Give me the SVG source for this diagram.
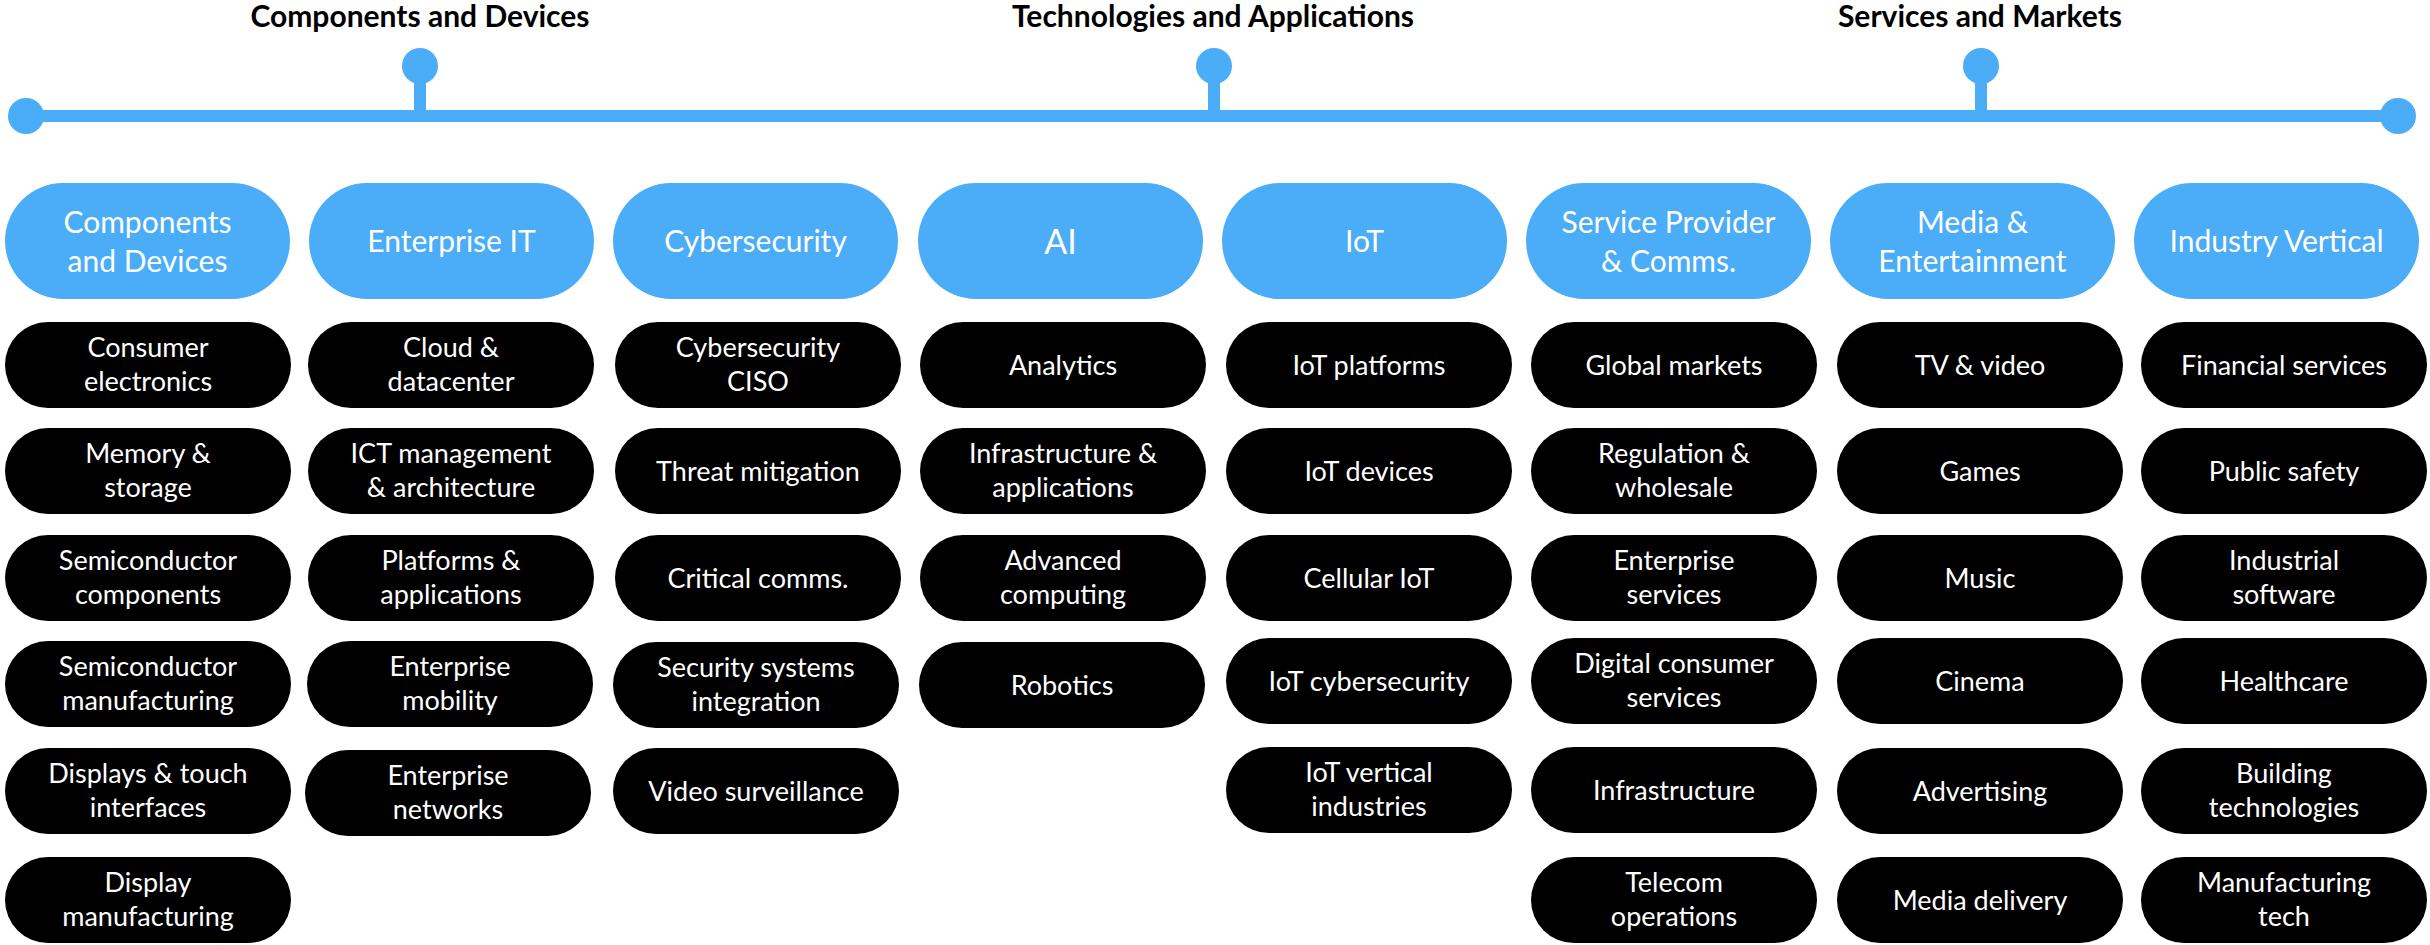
<svg xmlns="http://www.w3.org/2000/svg" width="2430" height="945" viewBox="0 0 2430 945">
<style>
.hdr{fill:#4BADF7}
.item{fill:#000000}
.t{font-family:Lato,"Liberation Sans",sans-serif;fill:#ffffff;text-anchor:middle}
.ht{font-size:30px}
.it{font-size:27px}
.top{font-family:Lato,"Liberation Sans",sans-serif;font-weight:bold;font-size:30px;fill:#000000;text-anchor:middle}
.tl{fill:#4BADF7}
</style>
<rect width="2430" height="945" fill="#ffffff"/>
<g id="connectors">
<rect class="tl" x="26" y="110" width="2372" height="12"/>
<circle class="tl" cx="26" cy="116" r="18"/>
<circle class="tl" cx="2398" cy="116" r="18"/>
<rect class="tl" x="414" y="66" width="12" height="50"/>
<circle class="tl" cx="420" cy="66" r="18"/>
<rect class="tl" x="1208" y="66" width="12" height="50"/>
<circle class="tl" cx="1214" cy="66" r="18"/>
<rect class="tl" x="1975" y="66" width="12" height="50"/>
<circle class="tl" cx="1981" cy="66" r="18"/>
</g>
<g id="labels">
<text class="top" x="420" y="27">Components and Devices</text>
<text class="top" x="1213" y="27">Technologies and Applications</text>
<text class="top" x="1980" y="27">Services and Markets</text>
</g>
<g id="h1"><rect class="hdr" x="5" y="183" width="285" height="116" rx="58"/><text class="t ht" x="147.5"><tspan x="147.5" y="233">Components</tspan><tspan x="147.5" y="272">and Devices</tspan></text></g>
<g id="h2"><rect class="hdr" x="309" y="183" width="285" height="116" rx="58"/><text class="t ht" x="451.5" y="252">Enterprise IT</text></g>
<g id="h3"><rect class="hdr" x="613" y="183" width="285" height="116" rx="58"/><text class="t ht" x="755.5" y="252">Cybersecurity</text></g>
<g id="h4"><rect class="hdr" x="918" y="183" width="285" height="116" rx="58"/><text class="t" style="font-size:34px" x="1060.5" y="254">AI</text></g>
<g id="h5"><rect class="hdr" x="1222" y="183" width="285" height="116" rx="58"/><text class="t ht" x="1364.5" y="252">IoT</text></g>
<g id="h6"><rect class="hdr" x="1526" y="183" width="285" height="116" rx="58"/><text class="t ht" x="1668.5"><tspan x="1668.5" y="233">Service Provider</tspan><tspan x="1668.5" y="272">&amp; Comms.</tspan></text></g>
<g id="h7"><rect class="hdr" x="1830" y="183" width="285" height="116" rx="58"/><text class="t ht" x="1972.5"><tspan x="1972.5" y="233">Media &amp;</tspan><tspan x="1972.5" y="272">Entertainment</tspan></text></g>
<g id="h8"><rect class="hdr" x="2134" y="183" width="285" height="116" rx="58"/><text class="t ht" x="2276.5" y="252">Industry Vertical</text></g>

<g id="c1r1"><rect class="item" x="5" y="322" width="286" height="86" rx="43"/><text class="t it"><tspan x="148" y="357">Consumer</tspan><tspan x="148" y="391">electronics</tspan></text></g>
<g id="c1r2"><rect class="item" x="5" y="428" width="286" height="86" rx="43"/><text class="t it"><tspan x="148" y="463">Memory &amp;</tspan><tspan x="148" y="497">storage</tspan></text></g>
<g id="c1r3"><rect class="item" x="5" y="535" width="286" height="86" rx="43"/><text class="t it"><tspan x="148" y="570">Semiconductor</tspan><tspan x="148" y="604">components</tspan></text></g>
<g id="c1r4"><rect class="item" x="5" y="641" width="286" height="86" rx="43"/><text class="t it"><tspan x="148" y="676">Semiconductor</tspan><tspan x="148" y="710">manufacturing</tspan></text></g>
<g id="c1r5"><rect class="item" x="5" y="748" width="286" height="86" rx="43"/><text class="t it"><tspan x="148" y="783">Displays &amp; touch</tspan><tspan x="148" y="817">interfaces</tspan></text></g>
<g id="c1r6"><rect class="item" x="5" y="857" width="286" height="86" rx="43"/><text class="t it"><tspan x="148" y="892">Display</tspan><tspan x="148" y="926">manufacturing</tspan></text></g>

<g id="c2r1"><rect class="item" x="308" y="322" width="286" height="86" rx="43"/><text class="t it"><tspan x="451" y="357">Cloud &amp;</tspan><tspan x="451" y="391">datacenter</tspan></text></g>
<g id="c2r2"><rect class="item" x="308" y="428" width="286" height="86" rx="43"/><text class="t it"><tspan x="451" y="463">ICT management</tspan><tspan x="451" y="497">&amp; architecture</tspan></text></g>
<g id="c2r3"><rect class="item" x="308" y="535" width="286" height="86" rx="43"/><text class="t it"><tspan x="451" y="570">Platforms &amp;</tspan><tspan x="451" y="604">applications</tspan></text></g>
<g id="c2r4"><rect class="item" x="307" y="641" width="286" height="86" rx="43"/><text class="t it"><tspan x="450" y="676">Enterprise</tspan><tspan x="450" y="710">mobility</tspan></text></g>
<g id="c2r5"><rect class="item" x="305" y="750" width="286" height="86" rx="43"/><text class="t it"><tspan x="448" y="785">Enterprise</tspan><tspan x="448" y="819">networks</tspan></text></g>

<g id="c3r1"><rect class="item" x="615" y="322" width="286" height="86" rx="43"/><text class="t it"><tspan x="758" y="357">Cybersecurity</tspan><tspan x="758" y="391">CISO</tspan></text></g>
<g id="c3r2"><rect class="item" x="615" y="428" width="286" height="86" rx="43"/><text class="t it" x="758" y="481">Threat mitigation</text></g>
<g id="c3r3"><rect class="item" x="615" y="535" width="286" height="86" rx="43"/><text class="t it" x="758" y="588">Critical comms.</text></g>
<g id="c3r4"><rect class="item" x="613" y="642" width="286" height="86" rx="43"/><text class="t it"><tspan x="756" y="677">Security systems</tspan><tspan x="756" y="711">integration</tspan></text></g>
<g id="c3r5"><rect class="item" x="613" y="748" width="286" height="86" rx="43"/><text class="t it" x="756" y="801">Video surveillance</text></g>

<g id="c4r1"><rect class="item" x="920" y="322" width="286" height="86" rx="43"/><text class="t it" x="1063" y="375">Analytics</text></g>
<g id="c4r2"><rect class="item" x="920" y="428" width="286" height="86" rx="43"/><text class="t it"><tspan x="1063" y="463">Infrastructure &amp;</tspan><tspan x="1063" y="497">applications</tspan></text></g>
<g id="c4r3"><rect class="item" x="920" y="535" width="286" height="86" rx="43"/><text class="t it"><tspan x="1063" y="570">Advanced</tspan><tspan x="1063" y="604">computing</tspan></text></g>
<g id="c4r4"><rect class="item" x="919" y="642" width="286" height="86" rx="43"/><text class="t it" x="1062" y="695">Robotics</text></g>

<g id="c5r1"><rect class="item" x="1226" y="322" width="286" height="86" rx="43"/><text class="t it" x="1369" y="375">IoT platforms</text></g>
<g id="c5r2"><rect class="item" x="1226" y="428" width="286" height="86" rx="43"/><text class="t it" x="1369" y="481">IoT devices</text></g>
<g id="c5r3"><rect class="item" x="1226" y="535" width="286" height="86" rx="43"/><text class="t it" x="1369" y="588">Cellular IoT</text></g>
<g id="c5r4"><rect class="item" x="1226" y="638" width="286" height="86" rx="43"/><text class="t it" x="1369" y="691">IoT cybersecurity</text></g>
<g id="c5r5"><rect class="item" x="1226" y="747" width="286" height="86" rx="43"/><text class="t it"><tspan x="1369" y="782">IoT vertical</tspan><tspan x="1369" y="816">industries</tspan></text></g>

<g id="c6r1"><rect class="item" x="1531" y="322" width="286" height="86" rx="43"/><text class="t it" x="1674" y="375">Global markets</text></g>
<g id="c6r2"><rect class="item" x="1531" y="428" width="286" height="86" rx="43"/><text class="t it"><tspan x="1674" y="463">Regulation &amp;</tspan><tspan x="1674" y="497">wholesale</tspan></text></g>
<g id="c6r3"><rect class="item" x="1531" y="535" width="286" height="86" rx="43"/><text class="t it"><tspan x="1674" y="570">Enterprise</tspan><tspan x="1674" y="604">services</tspan></text></g>
<g id="c6r4"><rect class="item" x="1531" y="638" width="286" height="86" rx="43"/><text class="t it"><tspan x="1674" y="673">Digital consumer</tspan><tspan x="1674" y="707">services</tspan></text></g>
<g id="c6r5"><rect class="item" x="1531" y="747" width="286" height="86" rx="43"/><text class="t it" x="1674" y="800">Infrastructure</text></g>
<g id="c6r6"><rect class="item" x="1531" y="857" width="286" height="86" rx="43"/><text class="t it"><tspan x="1674" y="892">Telecom</tspan><tspan x="1674" y="926">operations</tspan></text></g>

<g id="c7r1"><rect class="item" x="1837" y="322" width="286" height="86" rx="43"/><text class="t it" x="1980" y="375">TV &amp; video</text></g>
<g id="c7r2"><rect class="item" x="1837" y="428" width="286" height="86" rx="43"/><text class="t it" x="1980" y="481">Games</text></g>
<g id="c7r3"><rect class="item" x="1837" y="535" width="286" height="86" rx="43"/><text class="t it" x="1980" y="588">Music</text></g>
<g id="c7r4"><rect class="item" x="1837" y="638" width="286" height="86" rx="43"/><text class="t it" x="1980" y="691">Cinema</text></g>
<g id="c7r5"><rect class="item" x="1837" y="748" width="286" height="86" rx="43"/><text class="t it" x="1980" y="801">Advertising</text></g>
<g id="c7r6"><rect class="item" x="1837" y="857" width="286" height="86" rx="43"/><text class="t it" x="1980" y="910">Media delivery</text></g>

<g id="c8r1"><rect class="item" x="2141" y="322" width="286" height="86" rx="43"/><text class="t it" x="2284" y="375">Financial services</text></g>
<g id="c8r2"><rect class="item" x="2141" y="428" width="286" height="86" rx="43"/><text class="t it" x="2284" y="481">Public safety</text></g>
<g id="c8r3"><rect class="item" x="2141" y="535" width="286" height="86" rx="43"/><text class="t it"><tspan x="2284" y="570">Industrial</tspan><tspan x="2284" y="604">software</tspan></text></g>
<g id="c8r4"><rect class="item" x="2141" y="638" width="286" height="86" rx="43"/><text class="t it" x="2284" y="691">Healthcare</text></g>
<g id="c8r5"><rect class="item" x="2141" y="748" width="286" height="86" rx="43"/><text class="t it"><tspan x="2284" y="783">Building</tspan><tspan x="2284" y="817">technologies</tspan></text></g>
<g id="c8r6"><rect class="item" x="2141" y="857" width="286" height="86" rx="43"/><text class="t it"><tspan x="2284" y="892">Manufacturing</tspan><tspan x="2284" y="926">tech</tspan></text></g>
</svg>
